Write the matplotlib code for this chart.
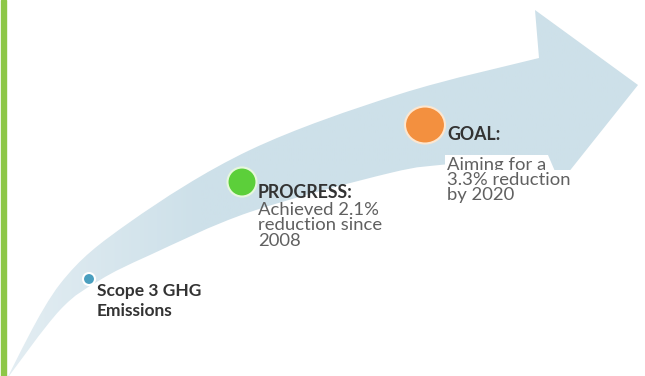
import numpy as np
import matplotlib.pyplot as plt
from matplotlib.path import Path
from matplotlib.patches import PathPatch, Ellipse
from matplotlib.colors import to_rgb

# milestones along the arrow
labels = ['Scope 3 GHG\nEmissions', 'PROGRESS:', 'GOAL:']
notes = ['', 'Achieved 2.1%\nreduction since\n2008', 'Aiming for a\n3.3% reduction\nby 2020']
dot_x = [89, 242, 425]
dot_y = [279, 182, 125]
dot_w = [12, 29, 40]
dot_h = [12, 29, 37]
dot_colors = ['#4a9fbf', '#5ccf3a', '#f3903f']
ring_colors = ['white', '#e6f7dd', '#fde6cf']

# arrow outline in pixel space (y down)
upper_edge = [(6, 380), (60, 284), (130, 222), (250, 150), (400, 94), (539, 58)]
head = [(535, 10), (638, 85), (560, 183), (548, 155)]
lower_edge = [(548, 155), (450, 164), (390, 173), (250, 212), (150, 255), (100, 280),
              (60, 310), (6, 380)]


def smooth(pts):
    # catmull-rom through pts, returned as cubic bezier pieces
    p = np.array(pts, float)
    p = np.vstack([p[0], p, p[-1]])
    verts = []
    for i in range(1, len(p) - 2):
        c1 = p[i] + (p[i + 1] - p[i - 1]) / 6
        c2 = p[i + 1] - (p[i + 2] - p[i]) / 6
        verts += [tuple(c1), tuple(c2), tuple(p[i + 1])]
    return verts


verts = [upper_edge[0]] + smooth(upper_edge)
codes = [Path.MOVETO] + [Path.CURVE4] * (len(verts) - 1)
verts += head
codes += [Path.LINETO] * len(head)
low = smooth(lower_edge)
verts += low
codes += [Path.CURVE4] * len(low)

fig = plt.figure(figsize=(6.45, 3.76), dpi=100)
ax = fig.add_axes([0, 0, 1, 1])
ax.set_xlim(0, 645)
ax.set_ylim(376, 0)
ax.axis('off')

# green rule on the left
ax.axvspan(1, 5.5, color='#8dc748', zorder=5)

# arrow with a soft fade toward the tail
patch = PathPatch(Path(verts, codes), facecolor='none', edgecolor='none')
ax.add_patch(patch)
c0 = np.array(to_rgb('#e4eef3'))
c1 = np.array(to_rgb('#cde0e9'))
w = np.clip(np.linspace(0, 645, 300) / 200, 0, 1)
grad = c0[None, :] * (1 - w[:, None]) + c1[None, :] * w[:, None]
img = ax.imshow(grad[None, :, :], extent=(0, 645, 376, 0), aspect='auto', zorder=1)
img.set_clip_path(patch)

# dots
for x, y, dw, dh, fc, rc in zip(dot_x, dot_y, dot_w, dot_h, dot_colors, ring_colors):
    ax.add_patch(Ellipse((x, y), dw, dh, facecolor=fc, edgecolor=rc, lw=1.5, zorder=3))

font = 'Lato'
dark = '#333333'
grey = '#606060'

# Scope 3 label
ax.text(97, 291, 'Scope 3 GHG', fontsize=12.5, fontweight='bold', color=dark,
        family=font, va='center', zorder=4)
ax.text(97, 311, 'Emissions', fontsize=12.5, fontweight='bold', color=dark,
        family=font, va='center', zorder=4)

# progress
ax.text(258, 193, labels[1], fontsize=12.8, fontweight='bold', color=dark,
        family=font, va='center', zorder=4)
for i, line in enumerate(notes[1].split('\n')):
    ax.text(258, 210 + 15.5 * i, line, fontsize=13.3, color=grey, family=font,
            va='center', zorder=4)

# goal
ax.text(447, 135, labels[2], fontsize=12.8, fontweight='bold', color=dark,
        family=font, va='center', zorder=4)
for i, line in enumerate(notes[2].split('\n')):
    ax.text(447, 165 + 15 * i, line, fontsize=13.3, color=grey, family=font,
            va='center', zorder=4,
            bbox=dict(facecolor='white', edgecolor='none', pad=1.5))

fig.savefig('out.png', dpi=100)
